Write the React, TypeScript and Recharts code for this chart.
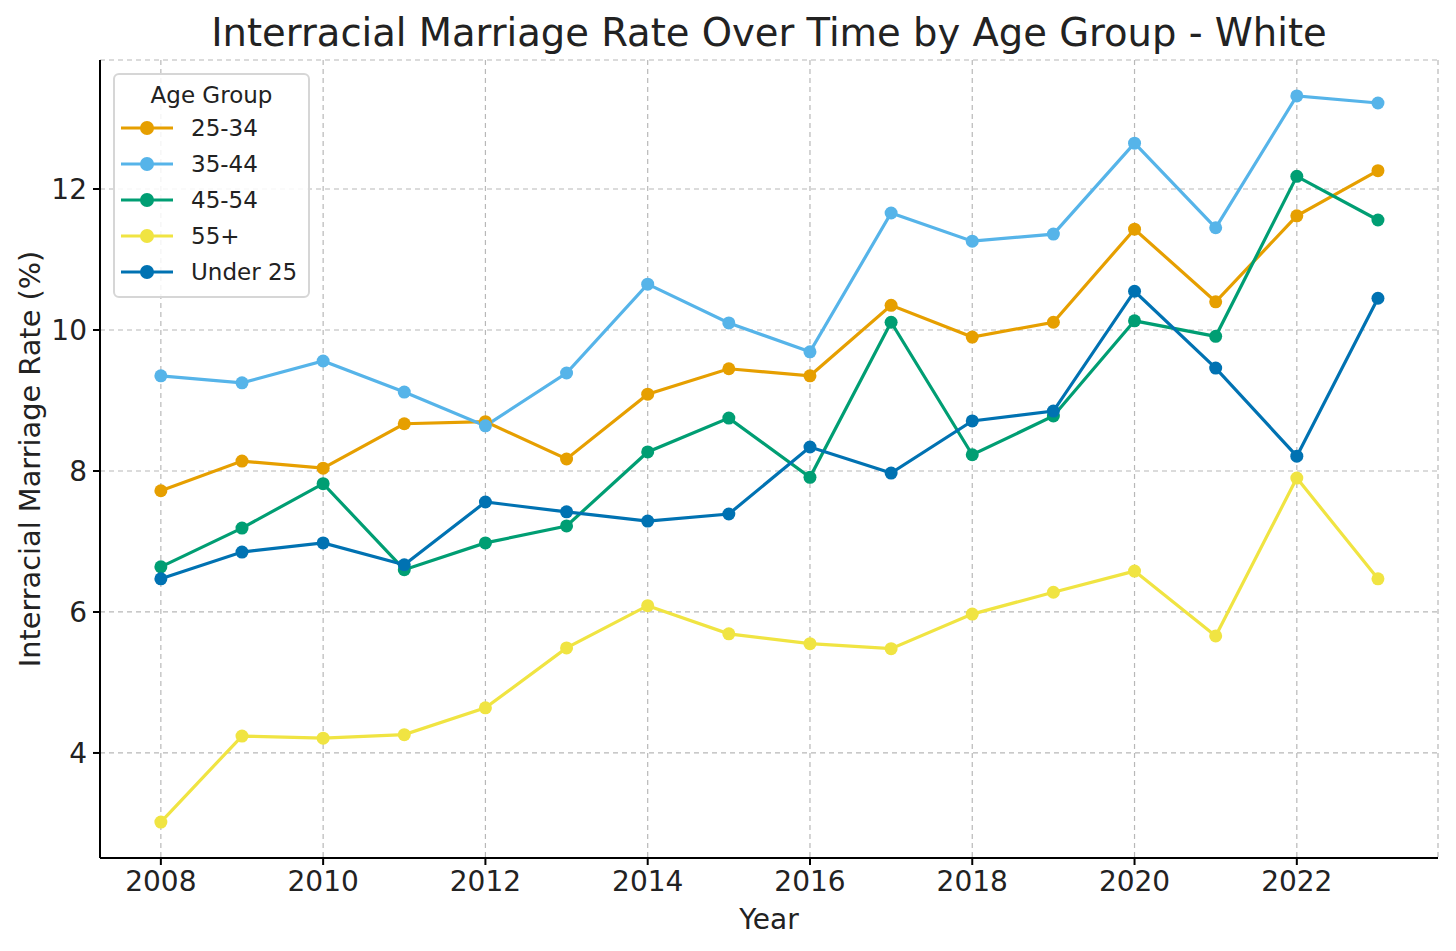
import { FC } from 'react'
import { CartesianGrid, Line, LineChart, XAxis, YAxis } from 'recharts'

const years = [2008, 2009, 2010, 2011, 2012, 2013, 2014, 2015, 2016, 2017, 2018, 2019, 2020, 2021, 2022, 2023]

const age2534 = [7.72, 8.14, 8.04, 8.67, 8.7, 8.17, 9.09, 9.45, 9.35, 10.35, 9.9, 10.11, 11.43, 10.4, 11.62, 12.26]
const age3544 = [9.35, 9.25, 9.56, 9.12, 8.64, 9.39, 10.65, 10.1, 9.69, 11.66, 11.26, 11.36, 12.65, 11.45, 13.32, 13.22]
const age4554 = [6.64, 7.19, 7.82, 6.6, 6.98, 7.22, 8.27, 8.75, 7.91, 10.11, 8.23, 8.78, 10.13, 9.91, 12.18, 11.56]
const age55 = [3.02, 4.24, 4.21, 4.26, 4.64, 5.49, 6.09, 5.69, 5.55, 5.48, 5.97, 6.28, 6.58, 5.66, 7.9, 6.47]
const under25 = [6.47, 6.85, 6.98, 6.67, 7.56, 7.42, 7.29, 7.39, 8.34, 7.97, 8.71, 8.85, 10.55, 9.46, 8.21, 10.45]

const xTicks = [2008, 2010, 2012, 2014, 2016, 2018, 2020, 2022]
const yTicks = [4, 6, 8, 10, 12]

const SERIES = [
	{ key: 'a2534', name: '25-34', color: '#E69F00', values: age2534 },
	{ key: 'a3544', name: '35-44', color: '#56B4E9', values: age3544 },
	{ key: 'a4554', name: '45-54', color: '#009E73', values: age4554 },
	{ key: 'a55', name: '55+', color: '#F0E442', values: age55 },
	{ key: 'u25', name: 'Under 25', color: '#0072B2', values: under25 },
]

const data = years.map((year, i) => {
	const row: Record<string, number> = { year }
	SERIES.forEach((s) => {
		row[s.key] = s.values[i]
	})
	return row
})

const FONT = '"DejaVu Sans", sans-serif'

const LegendBox: FC = () => (
	<div
		style={{
			position: 'absolute',
			left: 113,
			top: 73,
			width: 197,
			height: 225,
			border: '2px solid #d6d6d6',
			borderRadius: 6,
			background: 'rgba(255,255,255,0.85)',
			padding: '5px 0 0 6px',
			fontFamily: FONT,
			color: '#222',
			boxSizing: 'border-box',
			whiteSpace: 'nowrap',
		}}
	>
		<div style={{ textAlign: 'center', fontSize: 23, lineHeight: '30px', paddingRight: 6 }}>Age Group</div>
		{SERIES.map((s) => (
			<div key={s.key} style={{ display: 'flex', alignItems: 'center', height: 36, fontSize: 23 }}>
				<svg width={54} height={20} style={{ marginRight: 16 }}>
					<line x1={0} y1={10} x2={52} y2={10} stroke={s.color} strokeWidth={3.2} />
					<circle cx={26} cy={10} r={7} fill={s.color} />
				</svg>
				<span>{s.name}</span>
			</div>
		))}
	</div>
)

const App: FC = () => {
	return (
		<div style={{ position: 'absolute', left: 0, top: 0, width: 1456, height: 951, background: '#fff' }}>
			<LineChart
				width={1456}
				height={951}
				data={data}
				margin={{ top: 60, right: 18, bottom: 0, left: 0 }}
				style={{ fontFamily: FONT }}
			>
				<CartesianGrid stroke="#b8b8b8" strokeDasharray="5 4" strokeWidth={1.2} />
				<XAxis
					dataKey="year"
					type="number"
					domain={[2007.25, 2023.74]}
					ticks={xTicks}
					allowDataOverflow
					height={93}
					stroke="#000"
					strokeWidth={2}
					tickSize={7}
					tick={{ fill: '#222', fontSize: 28, dy: 4 }}
					label={{ value: 'Year', position: 'insideBottom', offset: 22, fill: '#222', fontSize: 28 }}
				/>
				<YAxis
					type="number"
					domain={[2.51, 13.83]}
					ticks={yTicks}
					allowDataOverflow
					width={100}
					stroke="#000"
					strokeWidth={2}
					tickSize={7}
					tick={{ fill: '#222', fontSize: 28, dx: -4 }}
					label={{
						value: 'Interracial Marriage Rate (%)',
						angle: -90,
						position: 'insideLeft',
						offset: 0,
						dx: 30,
						fill: '#222',
						fontSize: 28.8,
						style: { textAnchor: 'middle' },
					}}
				/>
				{SERIES.map((s) => (
					<Line
						key={s.key}
						type="linear"
						dataKey={s.key}
						name={s.name}
						stroke={s.color}
						strokeWidth={3.2}
						dot={{ r: 6.5, fill: s.color, stroke: s.color, strokeWidth: 0 }}
						activeDot={false}
						isAnimationActive={false}
					/>
				))}
			</LineChart>
			<div
				style={{
					position: 'absolute',
					left: 100,
					width: 1338,
					top: 10,
					textAlign: 'center',
					fontFamily: FONT,
					fontSize: 38.5,
					lineHeight: '46px',
					color: '#222',
				}}
			>
				Interracial Marriage Rate Over Time by Age Group - White
			</div>
			<LegendBox />
		</div>
	)
}

export default App
